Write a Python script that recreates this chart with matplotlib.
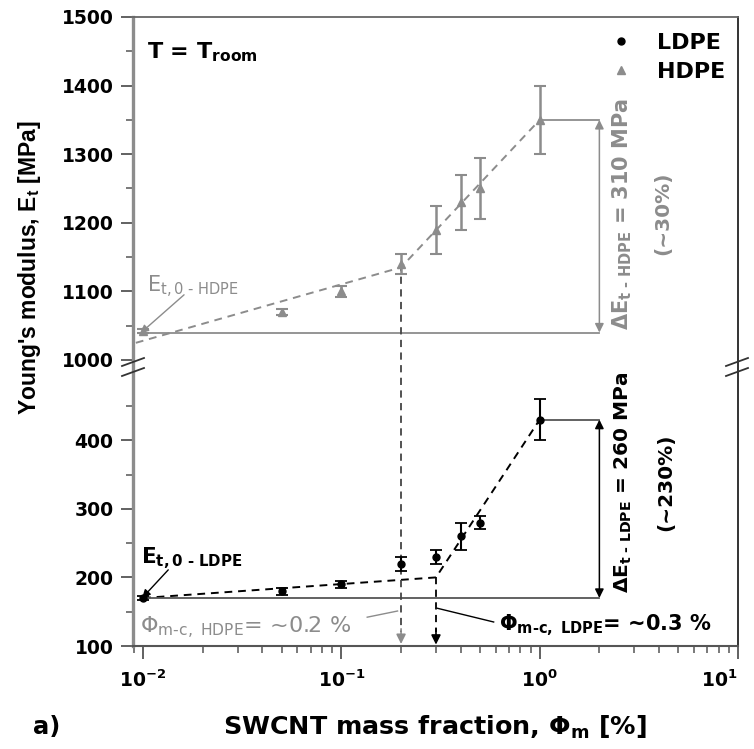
import numpy as np
import matplotlib.pyplot as plt
from matplotlib.lines import Line2D

plt.rcParams['font.family'] = 'DejaVu Sans'
plt.rcParams['mathtext.default'] = 'regular'

# DATA
phi = [0.01, 0.05, 0.1, 0.2, 0.3, 0.4, 0.5, 1.0]        # SWCNT mass fraction [%]
E_ldpe = [170, 180, 190, 220, 230, 260, 280, 430]       # MPa
err_ldpe = [3, 5, 5, 10, 10, 20, 10, 30]
E_hdpe = [1042, 1070, 1100, 1140, 1190, 1230, 1250, 1350]
err_hdpe = [3, 5, 8, 15, 35, 40, 45, 50]

# dashed guide lines (two segments each)
ldpe_fit_x = [0.01, 0.3, 1.0]
ldpe_fit_y = [170, 200, 430]
hdpe_fit_x = [0.0092, 0.2, 1.0]
hdpe_fit_y = [1025, 1135, 1350]

phi_c_hdpe = 0.2
phi_c_ldpe = 0.3
E0_ldpe, E1_ldpe = 170, 430
E0_hdpe, E1_hdpe = 1040, 1350
x_delta = 2.0

x_ticks = [0.01, 0.1, 1, 10]
x_tick_labels = ['10$^{-2}$', '10$^{-1}$', '10$^{0}$', '10$^{1}$']
y_ticks = [100, 200, 300, 400, 1000, 1100, 1200, 1300, 1400, 1500]
y_minor = [150, 250, 350, 450, 1050, 1150, 1250, 1350, 1450]

gray = '#8c8c8c'
dark = '#333333'
hy = '\u2010'  # short hyphen inside subscripts

# broken y axis: squeeze 509..993 MPa to nothing
brk_lo, brk_hi = 509, 993
xp = [-1e4, brk_lo, brk_hi, 1e5]
fp = [-1e4, brk_lo, brk_lo + 1, 1e5 - (brk_hi - brk_lo - 1)]


def fwd(y):
    return np.interp(y, xp, fp)


def inv(t):
    return np.interp(t, fp, xp)


fig = plt.figure(figsize=(7.54, 7.49), dpi=100)
ax = fig.add_axes([133 / 754, 1 - 646 / 749, 605 / 754, 629 / 749])
ax.set_xscale('log')
ax.set_yscale('function', functions=(fwd, inv))
ax.set_xlim(0.0089, 10)
ax.set_ylim(100, 1500)

# guide lines
ax.plot(hdpe_fit_x, hdpe_fit_y, color=gray, lw=1.4, dashes=(4, 3))
ax.plot(ldpe_fit_x, ldpe_fit_y, color='k', lw=1.4, dashes=(4, 3))

# reference lines and delta arrows
ax.plot([0.0095, x_delta], [E0_hdpe, E0_hdpe], color=gray, lw=1.3)
ax.plot([1, x_delta], [E1_hdpe, E1_hdpe], color=gray, lw=1.3)
ax.annotate('', xy=(x_delta, E0_hdpe), xytext=(x_delta, E1_hdpe),
            arrowprops=dict(arrowstyle='<|-|>', color=gray, lw=1.1,
                            mutation_scale=13, shrinkA=0, shrinkB=0))
ax.plot([0.01, x_delta], [E0_ldpe, E0_ldpe], color='#555555', lw=1.3)
ax.plot([1, x_delta], [E1_ldpe, E1_ldpe], color='#555555', lw=1.3)
ax.annotate('', xy=(x_delta, E0_ldpe), xytext=(x_delta, E1_ldpe),
            arrowprops=dict(arrowstyle='<|-|>', color='k', lw=1.1,
                            mutation_scale=13, shrinkA=0, shrinkB=0))

# critical fractions
ax.plot([phi_c_hdpe, phi_c_hdpe], [E_hdpe[3], 120], color='#444444', lw=1.3, dashes=(4, 3))
ax.annotate('', xy=(phi_c_hdpe, 103), xytext=(phi_c_hdpe, 125),
            arrowprops=dict(arrowstyle='-|>', color=gray, lw=1.2,
                            mutation_scale=14, shrinkA=0, shrinkB=0))
ax.plot([phi_c_ldpe, phi_c_ldpe], [200, 120], color='k', lw=1.3, dashes=(4, 3))
ax.annotate('', xy=(phi_c_ldpe, 102), xytext=(phi_c_ldpe, 125),
            arrowprops=dict(arrowstyle='-|>', color='k', lw=1.2,
                            mutation_scale=14, shrinkA=0, shrinkB=0))

# data
ax.errorbar(phi, E_hdpe, yerr=err_hdpe, fmt='^', color=gray, ms=6,
            capsize=4.5, elinewidth=1.8, capthick=1.5, zorder=4)
ax.errorbar(phi, E_ldpe, yerr=err_ldpe, fmt='o', color='k', ms=5,
            capsize=4.5, elinewidth=1.5, capthick=1.3, zorder=5)

# axes styling
ax.spines['left'].set_color(gray)
ax.spines['left'].set_linewidth(2.4)
ax.spines['bottom'].set_color('#555555')
ax.spines['bottom'].set_linewidth(1.5)
ax.spines['top'].set_color('#666666')
ax.spines['top'].set_linewidth(1.3)
ax.spines['right'].set_color(dark)
ax.spines['right'].set_linewidth(1.4)

ax.set_yticks(y_ticks)
ax.set_yticks(y_minor, minor=True)
ax.set_yticklabels([str(v) for v in y_ticks])
ax.set_xticks(x_ticks)
ax.set_xticklabels(x_tick_labels)
ax.xaxis.set_minor_formatter(plt.NullFormatter())
ax.tick_params(which='major', direction='out', length=9, width=1.3, color='#555555',
               labelsize=13.5, pad=5)
ax.tick_params(which='minor', direction='out', length=5, width=1.1, color='#555555')
ax.tick_params(axis='x', which='major', pad=8)
for lab in ax.get_xticklabels() + ax.get_yticklabels():
    lab.set_fontweight('bold')
ax.get_xticklabels()[-1].set_horizontalalignment('right')

# legend
handles = [Line2D([], [], marker='o', ls='none', color='k', ms=5),
           Line2D([], [], marker='^', ls='none', color=gray, ms=6)]
ax.legend(handles, ['LDPE', 'HDPE'], loc='upper right', frameon=False,
          bbox_to_anchor=(1.012, 1.006), handlelength=1.0, handletextpad=1.1,
          labelspacing=0.4, prop={'weight': 'bold', 'size': 16})

# annotations
ax.text(0.0105, 1440, 'T = T$_{room}$', fontsize=16, fontweight='bold')
ax.text(0.0105, 1098, 'E$_{t,0\\ ' + hy + '\\ HDPE}$', fontsize=15, color=gray)
ax.annotate('', xy=(0.0097, 1039), xytext=(0.0161, 1095),
            arrowprops=dict(arrowstyle='-|>', color=gray, lw=1.0,
                            mutation_scale=12, shrinkA=0, shrinkB=0))
ax.text(0.0098, 221, 'E$_{t,0\\ ' + hy + '\\ LDPE}$', fontsize=15.5, fontweight='bold')
ax.annotate('', xy=(0.0099, 170), xytext=(0.0134, 211),
            arrowprops=dict(arrowstyle='-|>', color='k', lw=1.0,
                            mutation_scale=12, shrinkA=0, shrinkB=0))

ax.text(2.62, 1213, '\u0394E$_{t\\ ' + hy + '\\ HDPE}$ = 310 MPa', rotation=90, color=gray,
        fontsize=15, fontweight='bold', ha='center', va='center')
ax.text(4.18, 1214, '(~30%)', rotation=90, color=gray,
        fontsize=14.5, fontweight='bold', ha='center', va='center')
fig.text(623 / 754, 1 - 482 / 749, '\u0394E$_{t\\ ' + hy + '\\ LDPE}$ = 260 MPa', rotation=90,
         fontsize=14.5, fontweight='bold', ha='center', va='center')
fig.text(666 / 754, 1 - 482 / 749, '(~230%)', rotation=90,
         fontsize=14.5, fontweight='bold', ha='center', va='center')

ax.text(0.0097, 119, '\u03a6$_{m' + hy + 'c,\\ HDPE}$= ~0.2 %', fontsize=16, color=gray)
ax.plot([0.135, 0.192], [142, 151], color=gray, lw=1.0)
ax.text(0.62, 123, '\u03a6$_{m' + hy + 'c,\\ LDPE}$= ~0.3 %', fontsize=15, fontweight='bold')
ax.plot([0.305, 0.586], [155, 135], color='k', lw=1.0)

# break marks on both spines
for xs in (133, 737):
    for yc in (362, 372):
        fig.add_artist(Line2D([(xs - 11) / 754, (xs + 11) / 754],
                              [1 - (yc + 4) / 749, 1 - (yc - 4) / 749],
                              color=dark, lw=1.3))

# axis labels
fig.text(435 / 754, 1 - 727 / 749, 'SWCNT mass fraction, \u03a6$_{m}$ [%]',
         fontsize=18.3, fontweight='bold', ha='center', va='center')
fig.text(33 / 754, 1 - 727 / 749, 'a)', fontsize=17.5, fontweight='bold',
         ha='left', va='center')
fig.text(30 / 754, 1 - 268 / 749, "Young's modulus, E$_{t}$ [MPa]", rotation=90,
         fontsize=16.5, fontweight='bold', ha='center', va='center',
         family='Liberation Sans')

fig.savefig('out.png', dpi=100)
